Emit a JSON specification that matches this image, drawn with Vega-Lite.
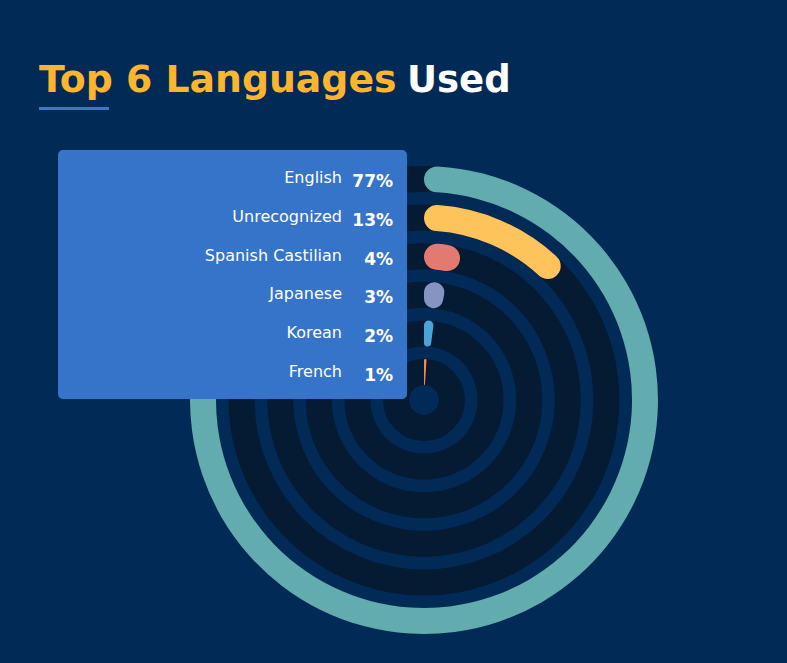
{
  "$schema": "https://vega.github.io/schema/vega-lite/v6.json",
  "width": 472,
  "height": 470,
  "autosize": {"type": "none"},
  "padding": {"left": 188, "top": 165, "right": 127, "bottom": 28},
  "background": "#022a57",
  "config": {"view": {"stroke": null}},
  "data": {
    "values": [
      {"language": "English", "rank": 1, "share": 0.77},
      {"language": "Unrecognized", "rank": 2, "share": 0.13},
      {"language": "Spanish Castilian", "rank": 3, "share": 0.04},
      {"language": "Japanese", "rank": 4, "share": 0.03},
      {"language": "Korean", "rank": 5, "share": 0.02},
      {"language": "French", "rank": 6, "share": 0.01}
    ]
  },
  "layer": [
    {
      "mark": {"type": "arc", "theta": 0, "theta2": 6.2832, "radiusOffset": 26, "color": "#051a33"},
      "encoding": {
        "radius": {"field": "rank", "type": "quantitative", "scale": {"type": "linear", "zero": false, "domain": [1, 6], "range": [208, 15]}},
        "radius2": {"field": "rank"}
      }
    },
    {
      "mark": {"type": "arc", "radiusOffset": 26, "cornerRadius": 13},
      "encoding": {
        "theta": {"field": "share", "type": "quantitative", "stack": null, "scale": {"domain": [0, 1], "range": [0, 6.2832]}},
        "theta2": {"datum": 0},
        "radius": {"field": "rank", "type": "quantitative", "scale": {"type": "linear", "zero": false, "domain": [1, 6], "range": [208, 15]}},
        "radius2": {"field": "rank"},
        "color": {
          "field": "language",
          "type": "nominal",
          "scale": {
            "domain": ["English", "Unrecognized", "Spanish Castilian", "Japanese", "Korean", "French"],
            "range": ["#62abaf", "#fec45b", "#e27a72", "#8794c1", "#4aa4d9", "#f3894a"]
          },
          "legend": null
        }
      }
    },
    {
      "data": {"values": [{}]},
      "mark": {"type": "rect", "x": -130, "x2": 219, "y": -15, "y2": 234, "cornerRadius": 5, "color": "#3674c9"}
    },
    {
      "mark": {"type": "text", "align": "right", "baseline": "alphabetic", "x": 154, "font": "DejaVu Sans", "fontSize": 16, "color": "#ffffff"},
      "encoding": {
        "y": {"field": "rank", "type": "quantitative", "scale": {"domain": [1, 6], "range": [18, 212]}, "axis": null},
        "text": {"field": "language"}
      }
    },
    {
      "mark": {"type": "text", "align": "right", "baseline": "alphabetic", "x": 205, "dy": 4, "font": "DejaVu Sans", "fontWeight": "bold", "fontSize": 17, "color": "#ffffff"},
      "encoding": {
        "y": {"field": "rank", "type": "quantitative", "scale": {"domain": [1, 6], "range": [18, 212]}, "axis": null},
        "text": {"field": "share", "type": "quantitative", "format": ".0%"}
      }
    },
    {
      "data": {"values": [{}]},
      "mark": {"type": "text", "text": "Top 6 Languages", "align": "left", "baseline": "alphabetic", "x": -149, "y": -73, "font": "DejaVu Sans", "fontWeight": "bold", "fontSize": 37.8, "color": "#fcb52c"}
    },
    {
      "data": {"values": [{}]},
      "mark": {"type": "text", "text": "Used", "align": "left", "baseline": "alphabetic", "x": 219, "y": -73, "font": "DejaVu Sans", "fontWeight": "bold", "fontSize": 37, "color": "#ffffff"}
    },
    {
      "data": {"values": [{}]},
      "mark": {"type": "rect", "x": -149, "x2": -79, "y": -58, "y2": -55, "color": "#3a77cb"}
    }
  ]
}
